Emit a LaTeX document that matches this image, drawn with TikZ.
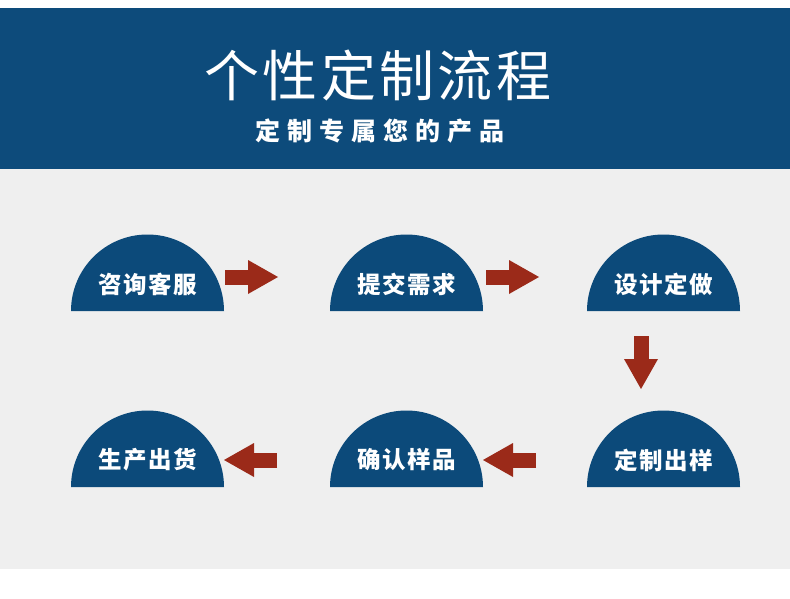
\documentclass[tikz,border=0pt]{standalone}
\usepackage{fontspec}
\newfontfamily\cjk{Noto Sans CJK SC}
\newfontfamily\cjkt[LetterSpace=6]{Noto Sans CJK SC}
\newfontfamily\cjks[LetterSpace=28]{Noto Sans CJK SC}
\newfontfamily\cjkl[LetterSpace=6]{Noto Sans CJK SC}
\usetikzlibrary{arrows.meta}
\definecolor{navy}{HTML}{0D4B7B}
\definecolor{disc}{HTML}{0C4A7A}
\definecolor{arrowred}{HTML}{9B2A19}
\definecolor{bgray}{HTML}{EFEFEF}
\tikzset{
  steplabel/.style={text=white,inner sep=0pt,font=\cjkl\bfseries\fontsize{23.5}{26}\selectfont},
  blockarrow/.style={draw=arrowred,line width=15pt,line cap=butt,
    -{Triangle[width=34pt,length=30pt,line width=0pt,fill=arrowred]}},
}
\newcommand\halfdisc[4]{%
  \fill[disc] (#2-76.5,#3) arc (180:0:76.5) -- cycle;
  \node[steplabel] (#1) at (#2,#3+27) {#4};}
\begin{document}
\begin{tikzpicture}[x=1pt,y=1pt]
\useasboundingbox (0,0) rectangle (790,-599);
\fill[white] (0,0) rectangle (790,-599);
\fill[bgray] (0,-169) rectangle (790,-569);
\fill[navy] (0,-8) rectangle (790,-169);
\node[text=white,inner sep=0pt,font=\cjkt\fontsize{55}{60}\selectfont] (title) at (378,-75) {个性定制流程};
\node[text=white,inner sep=0pt,font=\cjks\bfseries\fontsize{25}{28}\selectfont] (sub) at (380,-131) {定制专属您的产品};
\halfdisc{s1}{147.5}{-311}{咨询客服}
\halfdisc{s2}{406.5}{-311}{提交需求}
\halfdisc{s3}{663.5}{-311}{设计定做}
\halfdisc{s4}{663.5}{-487}{定制出样}
\halfdisc{s5}{406.5}{-487}{确认样品}
\halfdisc{s6}{147.5}{-487}{生产出货}
\coordinate (a1s) at (225,-277); \coordinate (a1e) at (278,-277);
\coordinate (a2s) at (486,-277); \coordinate (a2e) at (539,-277);
\coordinate (a3s) at (641,-336); \coordinate (a3e) at (641,-389);
\coordinate (a4s) at (536,-460); \coordinate (a4e) at (483,-460);
\coordinate (a5s) at (277,-460); \coordinate (a5e) at (224,-460);
\draw[blockarrow] (a1s) -- (a1e);
\draw[blockarrow] (a2s) -- (a2e);
\draw[blockarrow] (a3s) -- (a3e);
\draw[blockarrow] (a4s) -- (a4e);
\draw[blockarrow] (a5s) -- (a5e);
\end{tikzpicture}
\end{document}
